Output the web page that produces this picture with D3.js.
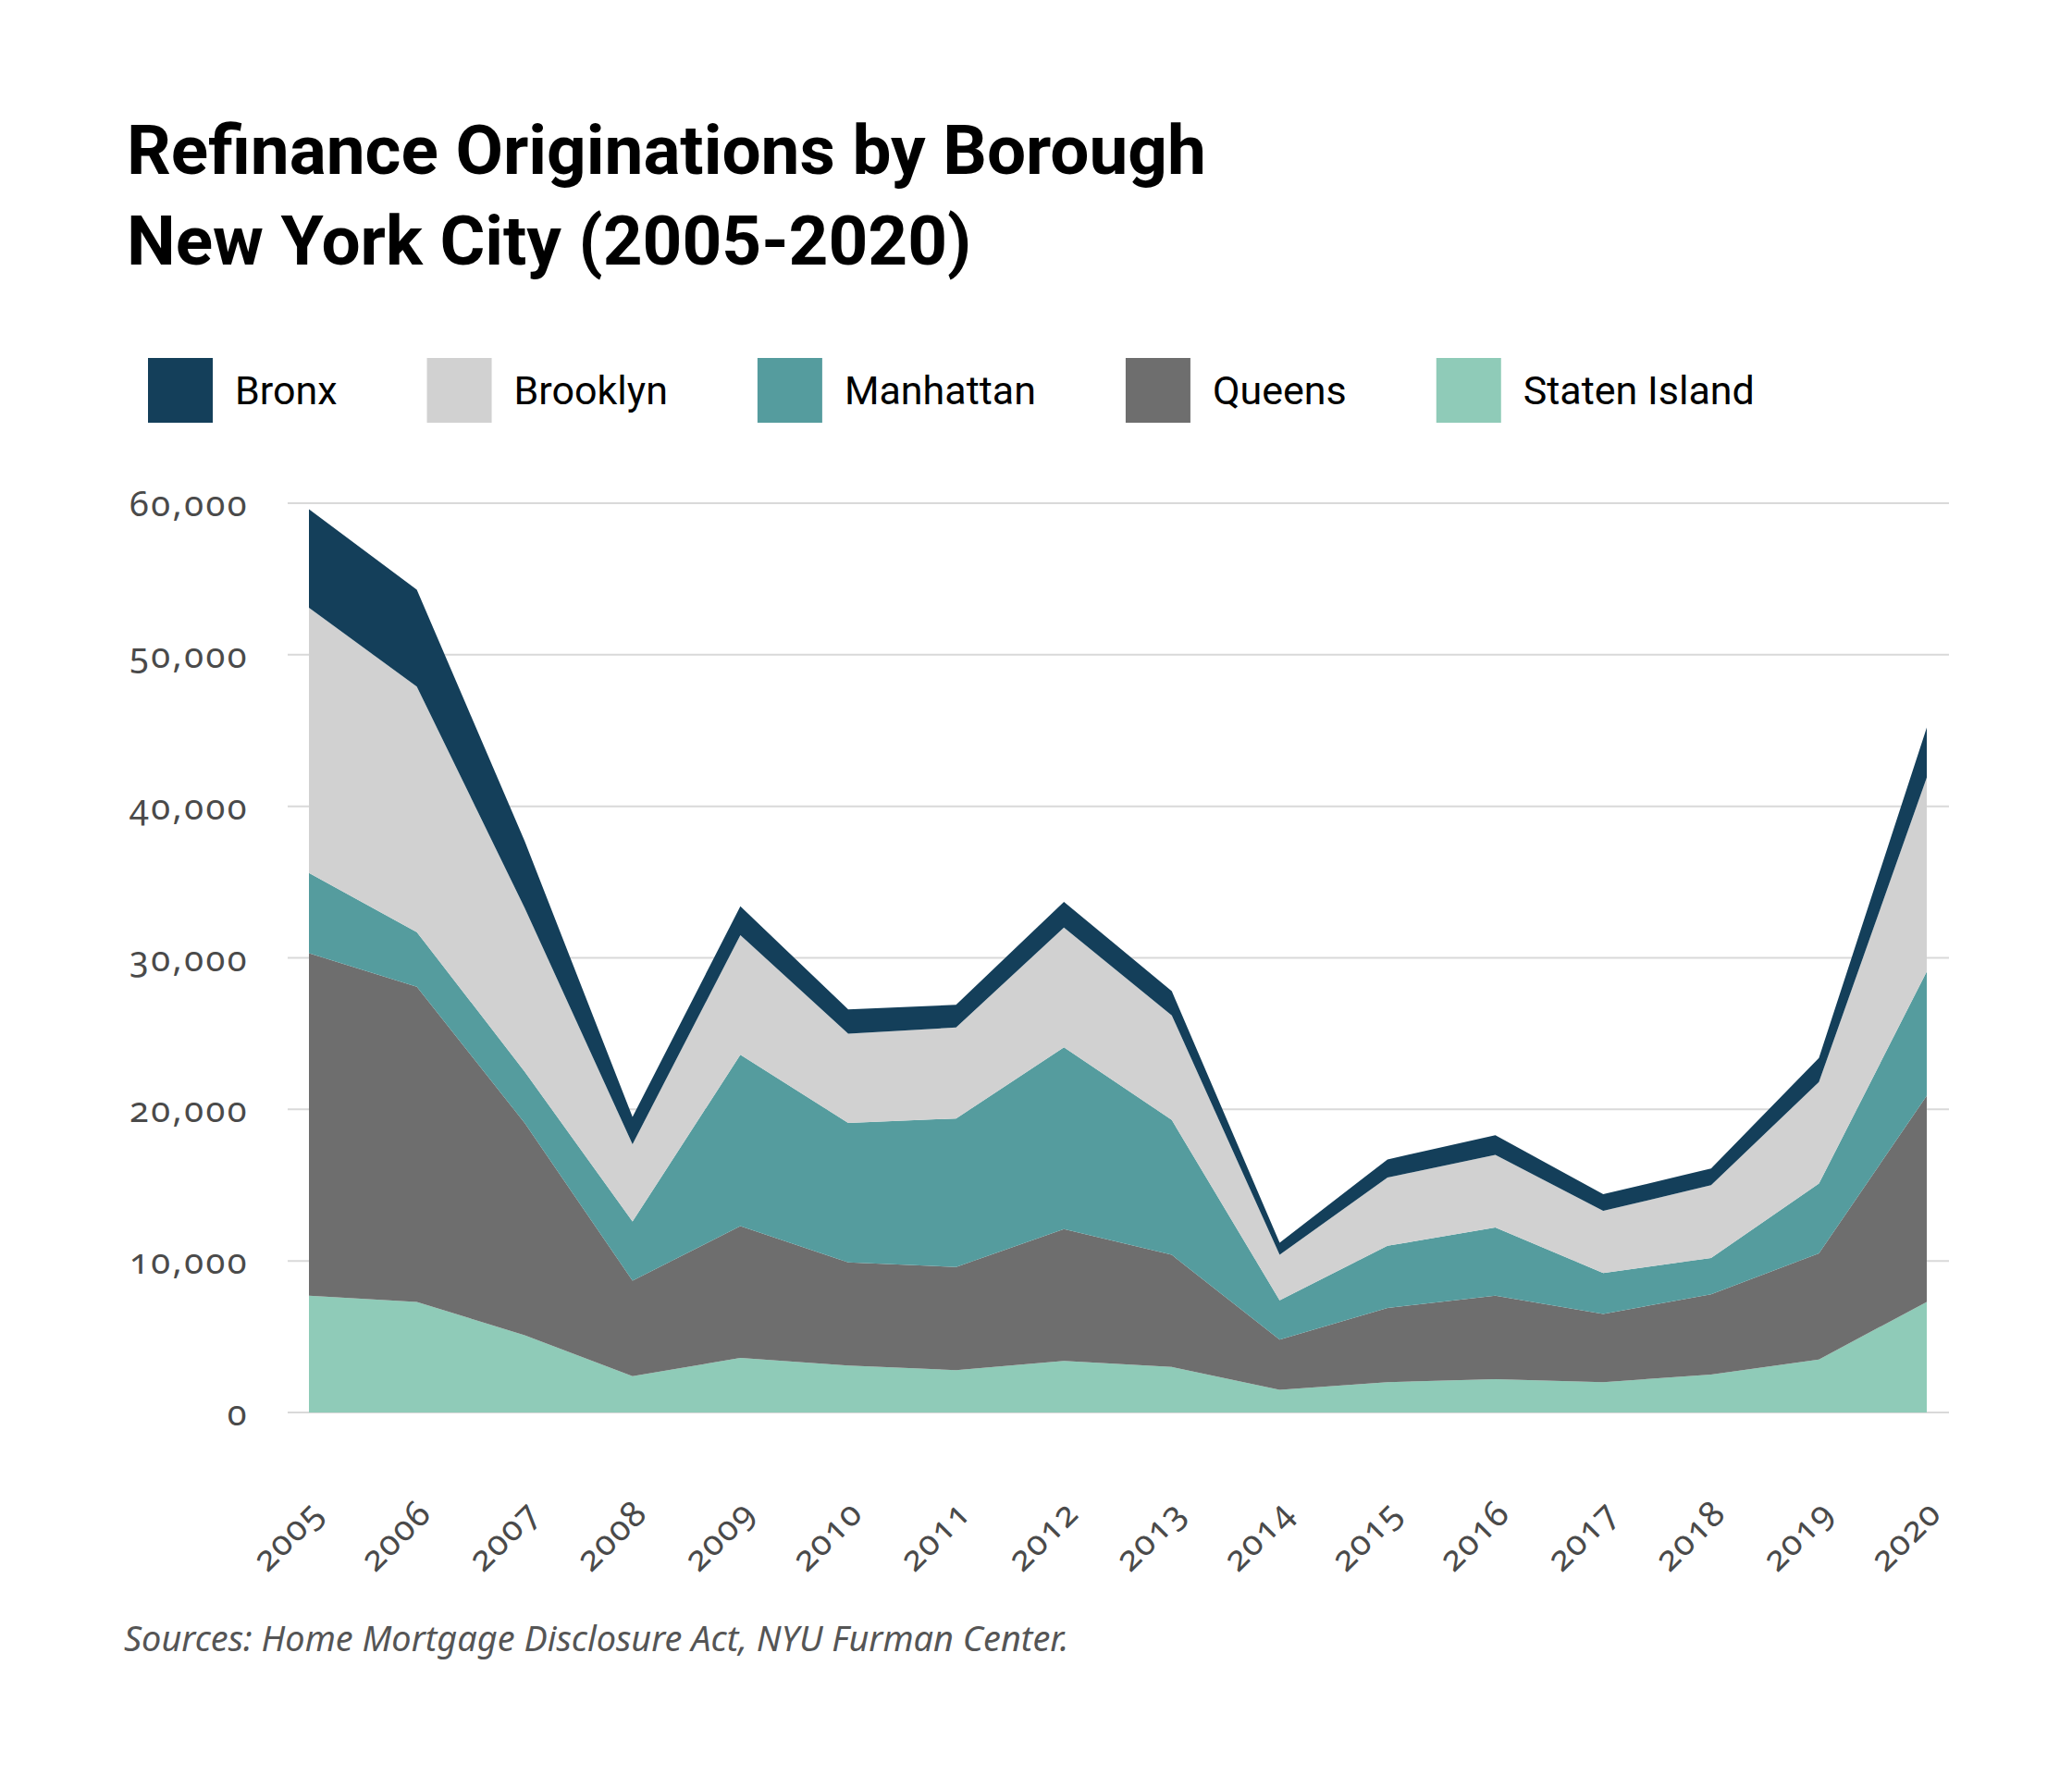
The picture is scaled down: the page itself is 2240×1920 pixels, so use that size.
<!DOCTYPE html>
<html>
<head>
<meta charset="utf-8">
<script src="https://cdn.jsdelivr.net/npm/d3@7"></script>
<style>
  body { margin: 0; background: #fff; }
  .axis-label { font-family: "Noto Sans", sans-serif; fill: #4a4a4a; font-feature-settings: "onum"; }
</style>
</head>
<body>
<div id="chart"></div>
<script>
const years = [2005, 2006, 2007, 2008, 2009, 2010, 2011, 2012, 2013, 2014, 2015, 2016, 2017, 2018, 2019, 2020];
const boroughs = ["Bronx", "Brooklyn", "Manhattan", "Queens", "Staten Island"];
const bronx = [6500, 6400, 4400, 1800, 1900, 1600, 1500, 1700, 1600, 800, 1200, 1300, 1100, 1100, 1600, 3300];
const brooklyn = [17500, 16200, 10800, 5100, 7900, 5900, 6000, 7900, 6900, 3000, 4500, 4800, 4100, 4800, 6700, 12800];
const manhattan = [5300, 3600, 3400, 3900, 11300, 9200, 9800, 12000, 8900, 2600, 4100, 4500, 2700, 2400, 4600, 8200];
const queens = [22600, 20800, 14000, 6300, 8700, 6800, 6800, 8700, 7400, 3300, 4900, 5500, 4500, 5300, 7000, 13600];
const statenIsland = [7700, 7300, 5100, 2400, 3600, 3100, 2800, 3400, 3000, 1500, 2000, 2200, 2000, 2500, 3500, 7300];
const yTicks = [0, 10000, 20000, 30000, 40000, 50000, 60000];

const colors = {
  "Bronx": "#143f5a",
  "Brooklyn": "#d1d1d1",
  "Manhattan": "#559c9e",
  "Queens": "#6e6e6e",
  "Staten Island": "#8fcbb8"
};

const width = 2240, height = 1920;
const svg = d3.select("#chart").append("svg")
  .attr("width", width)
  .attr("height", height);
svg.append("rect").attr("width", width).attr("height", height).attr("fill", "#fff");

// squeeze/stretch a text node to a target width by font size
const fit_text = (sel, target) => {
  const fs = parseFloat(sel.attr("font-size"));
  const w = sel.node().getComputedTextLength();
  sel.attr("font-size", fs * target / w);
};

// title
const t1 = svg.append("text")
  .attr("x", 137).attr("y", 188)
  .attr("font-family", "Roboto, sans-serif")
  .attr("font-weight", 700)
  .attr("font-size", 66)
  .attr("fill", "#000")
  .text("Refinance Originations by Borough");
fit_text(t1, 1167);
svg.append("text")
  .attr("x", 137).attr("y", 286)
  .attr("font-family", "Roboto, sans-serif")
  .attr("font-weight", 700)
  .attr("font-size", t1.attr("font-size"))
  .attr("fill", "#000")
  .text("New York City (2005-2020)");

// legend
let lx = 160;
boroughs.forEach((b) => {
  svg.append("rect")
    .attr("x", lx).attr("y", 387)
    .attr("width", 70).attr("height", 70)
    .attr("fill", colors[b]);
  const lt = svg.append("text")
    .attr("x", lx + 94).attr("y", 437)
    .attr("font-family", "Roboto, sans-serif")
    .attr("font-size", 43)
    .attr("fill", "#000")
    .text(b);
  lx = lx + 94 + lt.node().getComputedTextLength() + 97;
});

// scales
const x = d3.scaleLinear().domain([2005, 2020]).range([334, 2083]);
const y = d3.scaleLinear().domain([0, 60000]).range([1527, 544]);

// grid
svg.append("g")
  .selectAll("line")
  .data(yTicks)
  .enter()
  .append("line")
    .attr("x1", 311).attr("x2", 2107)
    .attr("y1", d => y(d)).attr("y2", d => y(d))
    .attr("stroke", "#d9d9d9")
    .attr("stroke-width", 2);

// stacked areas
const rows = years.map((yr, i) => ({
  year: yr,
  "Bronx": bronx[i],
  "Brooklyn": brooklyn[i],
  "Manhattan": manhattan[i],
  "Queens": queens[i],
  "Staten Island": statenIsland[i]
}));
const stack = d3.stack().keys(["Staten Island", "Queens", "Manhattan", "Brooklyn", "Bronx"]);
const series = stack(rows);
const area = d3.area()
  .x(d => x(d.data.year))
  .y0(d => y(d[0]))
  .y1(d => y(d[1]));
svg.append("g")
  .selectAll("path")
  .data(series)
  .enter()
  .append("path")
    .attr("d", area)
    .attr("fill", d => colors[d.key]);

// y labels
svg.append("g")
  .selectAll("text")
  .data(yTicks)
  .enter()
  .append("text")
    .classed("axis-label", true)
    .attr("x", 269)
    .attr("y", d => y(d) + 14)
    .attr("text-anchor", "end")
    .attr("font-size", 38)
    .attr("letter-spacing", 2.5)
    .text(d => d3.format(",")(d));

// x labels
svg.append("g")
  .selectAll("text")
  .data(years)
  .enter()
  .append("text")
    .classed("axis-label", true)
    .attr("text-anchor", "end")
    .attr("font-size", 38)
    .attr("letter-spacing", 1.5)
    .attr("transform", d => "translate(" + (x(d) + 18) + ",1638) rotate(-45)")
    .text(d => d);

// source
const src = svg.append("text")
  .attr("x", 134).attr("y", 1785)
  .attr("font-family", "Noto Sans, sans-serif")
  .attr("font-style", "italic")
  .attr("font-size", 33)
  .attr("fill", "#555")
  .text("Sources: Home Mortgage Disclosure Act, NYU Furman Center.");
fit_text(src, 1022);
</script>
</body>
</html>
